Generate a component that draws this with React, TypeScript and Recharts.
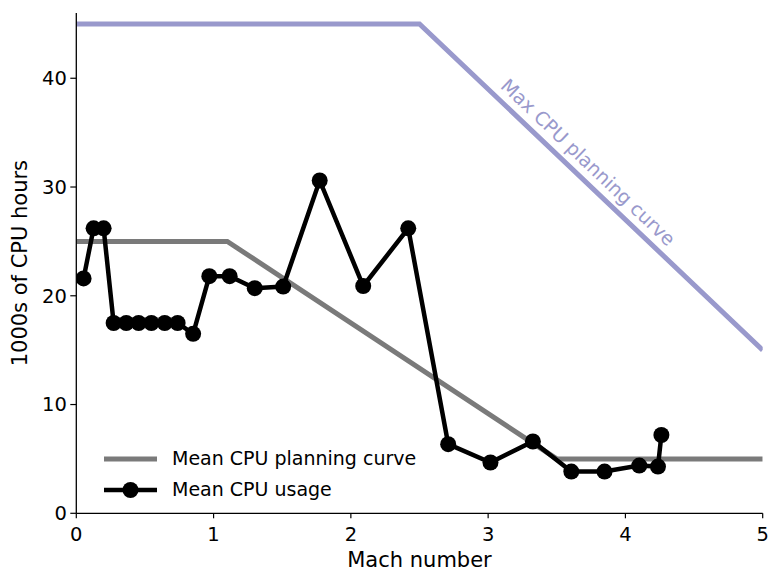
import React from 'react';
import { LineChart, Line, XAxis, YAxis, Legend, ReferenceDot } from 'recharts';

// Measured mean CPU usage per Mach number (thousands of CPU hours)
const machNumbers = [
  0.053, 0.126, 0.199, 0.272, 0.364, 0.454, 0.547, 0.644, 0.738, 0.851,
  0.969, 1.117, 1.3, 1.507, 1.773, 2.09, 2.418, 2.709, 3.017, 3.326,
  3.606, 3.848, 4.101, 4.237, 4.262,
];
const cpuUsage = [
  21.6, 26.2, 26.2, 17.5, 17.5, 17.5, 17.5, 17.5, 17.5, 16.5,
  21.8, 21.8, 20.7, 20.85, 30.6, 20.9, 26.2, 6.36, 4.67, 6.6,
  3.84, 3.84, 4.39, 4.3, 7.2,
];

// Mean planning curve breakpoints
const meanPlanMach = [0, 1.1, 3.5, 5];
const meanPlanHours = [25, 25, 5, 5];

// Max planning curve breakpoints
const maxPlanMach = [0, 2.5, 5];
const maxPlanHours = [45, 45, 15];

const xTicks = [0, 1, 2, 3, 4, 5];
const yTicks = [0, 10, 20, 30, 40];

const usageData = machNumbers.map((x, i) => ({ x, y: cpuUsage[i] }));
const meanPlanData = meanPlanMach.map((x, i) => ({ x, y: meanPlanHours[i] }));
const maxPlanData = maxPlanMach.map((x, i) => ({ x, y: maxPlanHours[i] }));

const FONT = '"DejaVu Sans", sans-serif';
const PURPLE = '#9999cc';
const GREY = '#7a7a7a';

const W = 769;
const H = 572;

const LegendBox = () => (
  <div style={{ fontFamily: FONT, fontSize: 19, color: '#000', lineHeight: '31px' }}>
    <div style={{ display: 'flex', alignItems: 'center', height: 31 }}>
      <svg width={54} height={20} style={{ marginRight: 14 }}>
        <line x1={0} y1={10} x2={53} y2={10} stroke={GREY} strokeWidth={5} />
      </svg>
      <span>Mean CPU planning curve</span>
    </div>
    <div style={{ display: 'flex', alignItems: 'center', height: 31 }}>
      <svg width={54} height={20} style={{ marginRight: 14 }}>
        <line x1={0} y1={10} x2={53} y2={10} stroke="#000" strokeWidth={4.5} />
        <circle cx={26.5} cy={10} r={8} fill="#000" />
      </svg>
      <span>Mean CPU usage</span>
    </div>
  </div>
);

// Text laid along the descending part of the max planning curve
const SlopedLabel = (props: any) => {
  const vb = props.viewBox || {};
  const cx = vb.cx ?? (vb.x + (vb.width || 0) / 2);
  const cy = vb.cy ?? (vb.y + (vb.height || 0) / 2);
  return (
    <text
      x={cx}
      y={cy}
      transform={`rotate(43.6 ${cx} ${cy})`}
      textAnchor="middle"
      dominantBaseline="central"
      fill={PURPLE}
      fontFamily={FONT}
      fontSize={19}
    >
      Max CPU planning curve
    </text>
  );
};

const YLabel = (props: any) => {
  const vb = props.viewBox || {};
  const x = 20;
  const y = vb.y + vb.height / 2;
  return (
    <text
      x={x}
      y={y}
      transform={`rotate(-90 ${x} ${y})`}
      textAnchor="middle"
      dominantBaseline="central"
      fill="#000"
      fontFamily={FONT}
      fontSize={21}
    >
      1000s of CPU hours
    </text>
  );
};

const XLabel = (props: any) => {
  const vb = props.viewBox || {};
  const x = vb.x + vb.width / 2;
  const y = 567.3;
  return (
    <text x={x} y={y} textAnchor="middle" fill="#000" fontFamily={FONT} fontSize={21}>
      Mach number
    </text>
  );
};

export default function App() {
  return (
    <div style={{ position: 'absolute', left: 0, top: 0, width: W, height: H, background: '#fff' }}>
      <LineChart
        width={W}
        height={H}
        margin={{ top: 13, right: 6.3, bottom: 0, left: 0 }}
        style={{ fontFamily: FONT }}
      >
        <XAxis
          dataKey="x"
          type="number"
          domain={[0, 5]}
          ticks={xTicks}
          allowDataOverflow
          height={58.7}
          stroke="#000"
          strokeWidth={1.3}
          tickSize={5}
          tickMargin={8.5}
          tick={{ fill: '#000', fontSize: 19.5, fontFamily: FONT }}
          tickLine={{ stroke: '#000', strokeWidth: 1.2 }}
          label={<XLabel />}
        />
        <YAxis
          dataKey="y"
          type="number"
          domain={[0, 46]}
          ticks={yTicks}
          allowDataOverflow
          width={76.3}
          stroke="#000"
          strokeWidth={1.3}
          tickSize={6}
          tickMargin={3.5}
          tick={{ fill: '#000', fontSize: 19.5, fontFamily: FONT }}
          tickLine={{ stroke: '#000', strokeWidth: 1.2 }}
          label={<YLabel />}
        />
        <Line
          data={maxPlanData}
          dataKey="y"
          stroke={PURPLE}
          strokeWidth={5}
          dot={false}
          activeDot={false}
          legendType="none"
          isAnimationActive={false}
        />
        <Line
          data={meanPlanData}
          dataKey="y"
          stroke={GREY}
          strokeWidth={5}
          dot={false}
          activeDot={false}
          isAnimationActive={false}
        />
        <Line
          data={usageData}
          dataKey="y"
          stroke="#000"
          strokeWidth={4.5}
          dot={{ r: 8, fill: '#000', stroke: 'none' }}
          activeDot={false}
          isAnimationActive={false}
        />
        <ReferenceDot x={3.73} y={32.3} r={0} fill="none" stroke="none" label={<SlopedLabel />} />
        <Legend
          layout="vertical"
          align="center"
          verticalAlign="middle"
          content={<LegendBox />}
          wrapperStyle={{ left: 104, top: 443, width: 330, height: 62 }}
        />
      </LineChart>
    </div>
  );
}
